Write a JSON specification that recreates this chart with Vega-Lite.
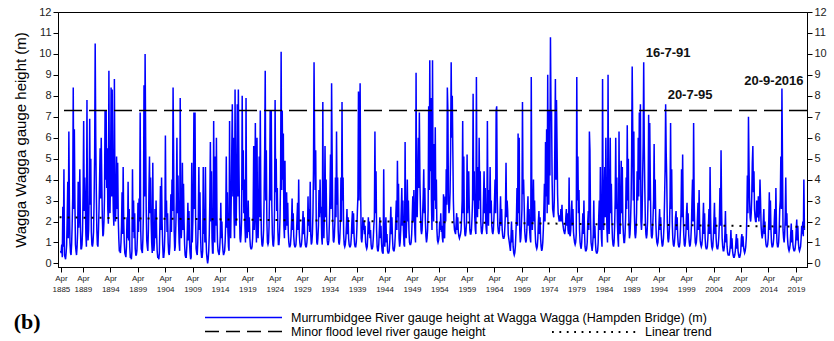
{
  "$schema": "https://vega.github.io/schema/vega-lite/v6.json",
  "width": 749,
  "height": 255,
  "autosize": {"type": "none"},
  "padding": {"left": 58, "top": 12, "right": 27, "bottom": 74},
  "background": "white",
  "config": {
    "font": "Liberation Sans",
    "view": {"stroke": "#000", "strokeWidth": 1},
    "axis": {"domainColor": "#000", "tickColor": "#000", "grid": false, "labelColor": "#222", "tickSize": 5, "labelFont": "Liberation Sans"},
    "axisX": {"labelOverlap": false, "labelFlush": false},
    "legend": {"padding": 0, "labelFont": "Liberation Sans", "labelColor": "#000", "labelFontSize": 12.5, "labelLimit": 600}
  },
  "title": {"text": "(b)", "orient": "bottom", "anchor": "start", "frame": "bounds", "font": "Liberation Serif", "fontSize": 22, "fontWeight": "bold", "color": "#000", "offset": -27},
  "datasets": {
    "gauge": [
{"t":1885.2,"h":0.6},{"t":1885.3,"h":0.5},{"t":1885.4,"h":0.9},{"t":1885.5,"h":0.3},{"t":1885.6,"h":2.7},{"t":1885.7,"h":0.8},{"t":1885.8,"h":4.5},{"t":1885.9,"h":0.4},
{"t":1886,"h":0.3},{"t":1886.1,"h":0.2},{"t":1886.2,"h":0.5},{"t":1886.3,"h":0.9},{"t":1886.4,"h":2.2},{"t":1886.5,"h":3.9},{"t":1886.6,"h":1.2},{"t":1886.7,"h":6.3},{"t":1886.8,"h":2.9},{"t":1886.9,"h":1},
{"t":1887,"h":0.5},{"t":1887.1,"h":0.4},{"t":1887.2,"h":0.9},{"t":1887.3,"h":1.8},{"t":1887.4,"h":3.1},{"t":1887.5,"h":8.4},{"t":1887.6,"h":2.6},{"t":1887.7,"h":6.4},{"t":1887.8,"h":3},{"t":1887.9,"h":0.9},
{"t":1888,"h":0.6},{"t":1888.1,"h":0.4},{"t":1888.2,"h":0.8},{"t":1888.3,"h":1.5},{"t":1888.4,"h":3.9},{"t":1888.5,"h":1.7},{"t":1888.6,"h":2.8},{"t":1888.7,"h":4.5},{"t":1888.8,"h":1.9},{"t":1888.9,"h":0.7},
{"t":1889,"h":0.7},{"t":1889.1,"h":0.9},{"t":1889.2,"h":1.6},{"t":1889.3,"h":3.4},{"t":1889.4,"h":6.8},{"t":1889.5,"h":2.5},{"t":1889.6,"h":4.1},{"t":1889.7,"h":3},{"t":1889.8,"h":1.4},{"t":1889.9,"h":0.8},
{"t":1890,"h":7.8},{"t":1890.1,"h":2},{"t":1890.2,"h":1.1},{"t":1890.3,"h":1.6},{"t":1890.4,"h":3.3},{"t":1890.5,"h":6.9},{"t":1890.6,"h":2.8},{"t":1890.7,"h":5},{"t":1890.8,"h":1.5},{"t":1890.9,"h":0.9},
{"t":1891,"h":0.8},{"t":1891.1,"h":1},{"t":1891.2,"h":1.5},{"t":1891.3,"h":3},{"t":1891.4,"h":5.2},{"t":1891.5,"h":10.5},{"t":1891.6,"h":6.1},{"t":1891.7,"h":3.5},{"t":1891.8,"h":1.6},{"t":1891.9,"h":0.9},
{"t":1892,"h":0.8},{"t":1892.1,"h":1.6},{"t":1892.2,"h":2.6},{"t":1892.3,"h":4},{"t":1892.4,"h":5.5},{"t":1892.5,"h":3.1},{"t":1892.6,"h":6},{"t":1892.7,"h":4},{"t":1892.8,"h":2.2},{"t":1892.9,"h":1.3},
{"t":1893,"h":1.4},{"t":1893.1,"h":2},{"t":1893.2,"h":3.2},{"t":1893.3,"h":7.3},{"t":1893.4,"h":4},{"t":1893.5,"h":7.3},{"t":1893.6,"h":3.6},{"t":1893.7,"h":5.5},{"t":1893.8,"h":2.6},{"t":1893.9,"h":1.9},
{"t":1894,"h":9.2},{"t":1894.1,"h":3},{"t":1894.2,"h":2.4},{"t":1894.3,"h":4.1},{"t":1894.4,"h":8.4},{"t":1894.5,"h":3.2},{"t":1894.6,"h":8.3},{"t":1894.7,"h":4.5},{"t":1894.8,"h":2.5},{"t":1894.9,"h":1.8},
{"t":1895,"h":8.8},{"t":1895.1,"h":3.4},{"t":1895.2,"h":2},{"t":1895.3,"h":3},{"t":1895.4,"h":5.1},{"t":1895.5,"h":2.6},{"t":1895.6,"h":4.8},{"t":1895.7,"h":2.2},{"t":1895.8,"h":1.2},{"t":1895.9,"h":0.6},
{"t":1896,"h":0.6},{"t":1896.1,"h":0.5},{"t":1896.2,"h":1},{"t":1896.3,"h":1.8},{"t":1896.4,"h":3.4},{"t":1896.5,"h":1.4},{"t":1896.6,"h":4.6},{"t":1896.7,"h":2},{"t":1896.8,"h":1},{"t":1896.9,"h":0.5},
{"t":1897,"h":0.4},{"t":1897.1,"h":0.3},{"t":1897.2,"h":0.8},{"t":1897.3,"h":2.2},{"t":1897.4,"h":1.2},{"t":1897.5,"h":3.9},{"t":1897.6,"h":1.1},{"t":1897.7,"h":2.6},{"t":1897.8,"h":0.8},{"t":1897.9,"h":0.3},
{"t":1898,"h":0.3},{"t":1898.1,"h":0.2},{"t":1898.2,"h":0.6},{"t":1898.3,"h":4.5},{"t":1898.4,"h":1.5},{"t":1898.5,"h":3},{"t":1898.6,"h":1.2},{"t":1898.7,"h":2.4},{"t":1898.8,"h":0.7},{"t":1898.9,"h":0.4},
{"t":1899,"h":0.4},{"t":1899.1,"h":0.6},{"t":1899.2,"h":1.3},{"t":1899.3,"h":2.9},{"t":1899.4,"h":1.5},{"t":1899.5,"h":3.1},{"t":1899.6,"h":2},{"t":1899.7,"h":7.2},{"t":1899.8,"h":1.6},{"t":1899.9,"h":0.7},
{"t":1900,"h":0.6},{"t":1900.1,"h":0.5},{"t":1900.2,"h":1.2},{"t":1900.3,"h":2.5},{"t":1900.4,"h":8.5},{"t":1900.5,"h":3.2},{"t":1900.6,"h":10},{"t":1900.7,"h":6},{"t":1900.8,"h":2.6},{"t":1900.9,"h":1.1},
{"t":1901,"h":0.8},{"t":1901.1,"h":0.6},{"t":1901.2,"h":1.6},{"t":1901.3,"h":3.5},{"t":1901.4,"h":5.1},{"t":1901.5,"h":2.4},{"t":1901.6,"h":4.1},{"t":1901.7,"h":2},{"t":1901.8,"h":1},{"t":1901.9,"h":0.5},
{"t":1902,"h":4.8},{"t":1902.1,"h":1.3},{"t":1902.2,"h":0.6},{"t":1902.3,"h":1},{"t":1902.4,"h":2.6},{"t":1902.5,"h":1.2},{"t":1902.6,"h":3},{"t":1902.7,"h":1.4},{"t":1902.8,"h":0.6},{"t":1902.9,"h":0.3},
{"t":1903,"h":0.3},{"t":1903.1,"h":0.2},{"t":1903.2,"h":0.5},{"t":1903.3,"h":1.9},{"t":1903.4,"h":3.7},{"t":1903.5,"h":1.6},{"t":1903.6,"h":4.1},{"t":1903.7,"h":2},{"t":1903.8,"h":0.9},{"t":1903.9,"h":0.3},
{"t":1904,"h":0.3},{"t":1904.1,"h":0.6},{"t":1904.2,"h":1.4},{"t":1904.3,"h":6.1},{"t":1904.4,"h":2.2},{"t":1904.5,"h":3},{"t":1904.6,"h":1.5},{"t":1904.7,"h":2.4},{"t":1904.8,"h":1},{"t":1904.9,"h":0.5},
{"t":1905,"h":0.4},{"t":1905.1,"h":0.8},{"t":1905.2,"h":2},{"t":1905.3,"h":3.3},{"t":1905.4,"h":1.5},{"t":1905.5,"h":4},{"t":1905.6,"h":2.5},{"t":1905.7,"h":8.4},{"t":1905.8,"h":5.1},{"t":1905.9,"h":1.5},
{"t":1906,"h":0.6},{"t":1906.1,"h":0.8},{"t":1906.2,"h":1.8},{"t":1906.3,"h":3},{"t":1906.4,"h":6},{"t":1906.5,"h":2.4},{"t":1906.6,"h":4.2},{"t":1906.7,"h":2},{"t":1906.8,"h":1},{"t":1906.9,"h":0.6},
{"t":1907,"h":7.9},{"t":1907.1,"h":2.5},{"t":1907.2,"h":1.2},{"t":1907.3,"h":2},{"t":1907.4,"h":4.8},{"t":1907.5,"h":1.6},{"t":1907.6,"h":3.8},{"t":1907.7,"h":2},{"t":1907.8,"h":0.9},{"t":1907.9,"h":0.4},
{"t":1908,"h":0.3},{"t":1908.1,"h":0.3},{"t":1908.2,"h":0.8},{"t":1908.3,"h":1.6},{"t":1908.4,"h":2.9},{"t":1908.5,"h":1.1},{"t":1908.6,"h":2.5},{"t":1908.7,"h":1},{"t":1908.8,"h":0.5},{"t":1908.9,"h":0.2},
{"t":1909,"h":0.3},{"t":1909.1,"h":4.8},{"t":1909.2,"h":1},{"t":1909.3,"h":2},{"t":1909.4,"h":3.6},{"t":1909.5,"h":7.2},{"t":1909.6,"h":2.6},{"t":1909.7,"h":7.2},{"t":1909.8,"h":2.2},{"t":1909.9,"h":0.7},
{"t":1910,"h":0.5},{"t":1910.1,"h":0.4},{"t":1910.2,"h":1},{"t":1910.3,"h":2.2},{"t":1910.4,"h":4.6},{"t":1910.5,"h":1.6},{"t":1910.6,"h":3.4},{"t":1910.7,"h":1.4},{"t":1910.8,"h":0.6},{"t":1910.9,"h":0.3},
{"t":1911,"h":0.3},{"t":1911.1,"h":0.6},{"t":1911.2,"h":4.6},{"t":1911.3,"h":1.4},{"t":1911.4,"h":2.6},{"t":1911.5,"h":1},{"t":1911.6,"h":4.6},{"t":1911.7,"h":1.3},{"t":1911.8,"h":0.5},{"t":1911.9,"h":0.2},
{"t":1912,"h":0},{"t":1912.1,"h":0.2},{"t":1912.2,"h":0.6},{"t":1912.3,"h":1.4},{"t":1912.4,"h":3},{"t":1912.5,"h":5.8},{"t":1912.6,"h":2},{"t":1912.7,"h":4.4},{"t":1912.8,"h":1.2},{"t":1912.9,"h":0.5},
{"t":1913,"h":0.5},{"t":1913.1,"h":6.8},{"t":1913.2,"h":2},{"t":1913.3,"h":1},{"t":1913.4,"h":5.1},{"t":1913.5,"h":1.8},{"t":1913.6,"h":6},{"t":1913.7,"h":2.2},{"t":1913.8,"h":1},{"t":1913.9,"h":0.6},
{"t":1914,"h":0.5},{"t":1914.1,"h":0.4},{"t":1914.2,"h":0.7},{"t":1914.3,"h":1.3},{"t":1914.4,"h":2.9},{"t":1914.5,"h":1.2},{"t":1914.6,"h":2},{"t":1914.7,"h":1},{"t":1914.8,"h":0.6},{"t":1914.9,"h":0.4},
{"t":1915,"h":0.5},{"t":1915.1,"h":0.6},{"t":1915.2,"h":1.1},{"t":1915.3,"h":2},{"t":1915.4,"h":5.1},{"t":1915.5,"h":1.7},{"t":1915.6,"h":3.4},{"t":1915.7,"h":1.5},{"t":1915.8,"h":0.8},{"t":1915.9,"h":0.6},
{"t":1916,"h":6.8},{"t":1916.1,"h":2},{"t":1916.2,"h":1.2},{"t":1916.3,"h":3},{"t":1916.4,"h":5.4},{"t":1916.5,"h":7.6},{"t":1916.6,"h":3.2},{"t":1916.7,"h":6},{"t":1916.8,"h":2.4},{"t":1916.9,"h":1.2},
{"t":1917,"h":8.3},{"t":1917.1,"h":3},{"t":1917.2,"h":1.8},{"t":1917.3,"h":4},{"t":1917.4,"h":7.6},{"t":1917.5,"h":3.2},{"t":1917.6,"h":8.3},{"t":1917.7,"h":4.8},{"t":1917.8,"h":2.6},{"t":1917.9,"h":1.2},
{"t":1918,"h":1},{"t":1918.1,"h":1.4},{"t":1918.2,"h":2.2},{"t":1918.3,"h":8},{"t":1918.4,"h":3.5},{"t":1918.5,"h":5.4},{"t":1918.6,"h":2.4},{"t":1918.7,"h":4},{"t":1918.8,"h":1.8},{"t":1918.9,"h":1},
{"t":1919,"h":7.9},{"t":1919.1,"h":2.6},{"t":1919.2,"h":1.2},{"t":1919.3,"h":1.6},{"t":1919.4,"h":3},{"t":1919.5,"h":1.5},{"t":1919.6,"h":2.2},{"t":1919.7,"h":1.2},{"t":1919.8,"h":0.8},{"t":1919.9,"h":0.7},
{"t":1920,"h":0.7},{"t":1920.1,"h":0.8},{"t":1920.2,"h":1.2},{"t":1920.3,"h":2.4},{"t":1920.4,"h":5.6},{"t":1920.5,"h":1.6},{"t":1920.6,"h":3.2},{"t":1920.7,"h":6.7},{"t":1920.8,"h":2},{"t":1920.9,"h":1},
{"t":1921,"h":6},{"t":1921.1,"h":2},{"t":1921.2,"h":1.2},{"t":1921.3,"h":2.5},{"t":1921.4,"h":5.1},{"t":1921.5,"h":2.2},{"t":1921.6,"h":7.3},{"t":1921.7,"h":3},{"t":1921.8,"h":1.4},{"t":1921.9,"h":0.9},
{"t":1922,"h":0.8},{"t":1922.1,"h":1},{"t":1922.2,"h":1.6},{"t":1922.3,"h":3.2},{"t":1922.4,"h":5.4},{"t":1922.5,"h":9.2},{"t":1922.6,"h":3},{"t":1922.7,"h":5.4},{"t":1922.8,"h":2},{"t":1922.9,"h":1},
{"t":1923,"h":0.9},{"t":1923.1,"h":1},{"t":1923.2,"h":1.8},{"t":1923.3,"h":3.6},{"t":1923.4,"h":7.3},{"t":1923.5,"h":3},{"t":1923.6,"h":7.3},{"t":1923.7,"h":2.8},{"t":1923.8,"h":1.4},{"t":1923.9,"h":0.9},
{"t":1924,"h":0.8},{"t":1924.1,"h":1.2},{"t":1924.2,"h":2.6},{"t":1924.3,"h":7.8},{"t":1924.4,"h":3.4},{"t":1924.5,"h":5},{"t":1924.6,"h":2.5},{"t":1924.7,"h":3.6},{"t":1924.8,"h":1.6},{"t":1924.9,"h":0.9},
{"t":1925,"h":0.9},{"t":1925.1,"h":1.3},{"t":1925.2,"h":2.2},{"t":1925.3,"h":4},{"t":1925.4,"h":10.1},{"t":1925.5,"h":3.5},{"t":1925.6,"h":7.3},{"t":1925.7,"h":4},{"t":1925.8,"h":6.2},{"t":1925.9,"h":1.8},
{"t":1926,"h":1.2},{"t":1926.1,"h":4.9},{"t":1926.2,"h":1.6},{"t":1926.3,"h":2.2},{"t":1926.4,"h":3.4},{"t":1926.5,"h":1.8},{"t":1926.6,"h":2.9},{"t":1926.7,"h":1.5},{"t":1926.8,"h":1},{"t":1926.9,"h":0.8},
{"t":1927,"h":0.8},{"t":1927.1,"h":0.9},{"t":1927.2,"h":1.3},{"t":1927.3,"h":2},{"t":1927.4,"h":3.1},{"t":1927.5,"h":1.6},{"t":1927.6,"h":2.4},{"t":1927.7,"h":1.3},{"t":1927.8,"h":0.9},{"t":1927.9,"h":0.8},
{"t":1928,"h":0.8},{"t":1928.1,"h":0.9},{"t":1928.2,"h":1.4},{"t":1928.3,"h":2.2},{"t":1928.4,"h":2.9},{"t":1928.5,"h":1.6},{"t":1928.6,"h":4},{"t":1928.7,"h":1.5},{"t":1928.8,"h":1},{"t":1928.9,"h":0.8},
{"t":1929,"h":0.8},{"t":1929.1,"h":0.9},{"t":1929.2,"h":1.2},{"t":1929.3,"h":1.9},{"t":1929.4,"h":2.5},{"t":1929.5,"h":1.4},{"t":1929.6,"h":2.2},{"t":1929.7,"h":1.3},{"t":1929.8,"h":0.9},{"t":1929.9,"h":0.8},
{"t":1930,"h":0.8},{"t":1930.1,"h":1},{"t":1930.2,"h":1.4},{"t":1930.3,"h":3.2},{"t":1930.4,"h":1.8},{"t":1930.5,"h":2.6},{"t":1930.6,"h":1.5},{"t":1930.7,"h":3.9},{"t":1930.8,"h":1.4},{"t":1930.9,"h":0.9},
{"t":1931,"h":1},{"t":1931.1,"h":1.4},{"t":1931.2,"h":2.4},{"t":1931.3,"h":4.5},{"t":1931.4,"h":9.6},{"t":1931.5,"h":5.7},{"t":1931.6,"h":3.5},{"t":1931.7,"h":5.4},{"t":1931.8,"h":2},{"t":1931.9,"h":1},
{"t":1932,"h":0.9},{"t":1932.1,"h":1.2},{"t":1932.2,"h":1.8},{"t":1932.3,"h":3.5},{"t":1932.4,"h":2.2},{"t":1932.5,"h":4},{"t":1932.6,"h":2.4},{"t":1932.7,"h":2.7},{"t":1932.8,"h":1.2},{"t":1932.9,"h":0.9},
{"t":1933,"h":7.7},{"t":1933.1,"h":2},{"t":1933.2,"h":1.2},{"t":1933.3,"h":2.7},{"t":1933.4,"h":5.6},{"t":1933.5,"h":2.2},{"t":1933.6,"h":4},{"t":1933.7,"h":2},{"t":1933.8,"h":1.1},{"t":1933.9,"h":0.9},
{"t":1934,"h":0.9},{"t":1934.1,"h":1.1},{"t":1934.2,"h":2},{"t":1934.3,"h":3.3},{"t":1934.4,"h":5.2},{"t":1934.5,"h":2.6},{"t":1934.6,"h":8.6},{"t":1934.7,"h":5.2},{"t":1934.8,"h":2.2},{"t":1934.9,"h":1.1},
{"t":1935,"h":1},{"t":1935.1,"h":1.3},{"t":1935.2,"h":2},{"t":1935.3,"h":4.1},{"t":1935.4,"h":2.2},{"t":1935.5,"h":6.3},{"t":1935.6,"h":2.8},{"t":1935.7,"h":4.1},{"t":1935.8,"h":1.6},{"t":1935.9,"h":1},
{"t":1936,"h":0.9},{"t":1936.1,"h":1.2},{"t":1936.2,"h":2},{"t":1936.3,"h":4.1},{"t":1936.4,"h":2},{"t":1936.5,"h":7.7},{"t":1936.6,"h":3},{"t":1936.7,"h":4.1},{"t":1936.8,"h":1.4},{"t":1936.9,"h":0.9},
{"t":1937,"h":0.8},{"t":1937.1,"h":0.9},{"t":1937.2,"h":1.2},{"t":1937.3,"h":1.8},{"t":1937.4,"h":2.6},{"t":1937.5,"h":1.4},{"t":1937.6,"h":2.2},{"t":1937.7,"h":1.2},{"t":1937.8,"h":0.9},{"t":1937.9,"h":0.8},
{"t":1938,"h":0.8},{"t":1938.1,"h":0.9},{"t":1938.2,"h":1.3},{"t":1938.3,"h":2},{"t":1938.4,"h":2.5},{"t":1938.5,"h":1.4},{"t":1938.6,"h":2.4},{"t":1938.7,"h":1.3},{"t":1938.8,"h":0.9},{"t":1938.9,"h":0.8},
{"t":1939,"h":0.8},{"t":1939.1,"h":1},{"t":1939.2,"h":1.6},{"t":1939.3,"h":2.5},{"t":1939.4,"h":3.2},{"t":1939.5,"h":8.2},{"t":1939.6,"h":3},{"t":1939.7,"h":6},{"t":1939.8,"h":8.6},{"t":1939.9,"h":3.2},
{"t":1940,"h":1.2},{"t":1940.1,"h":1},{"t":1940.2,"h":1.3},{"t":1940.3,"h":2.2},{"t":1940.4,"h":1.6},{"t":1940.5,"h":2},{"t":1940.6,"h":1.4},{"t":1940.7,"h":1.8},{"t":1940.8,"h":1},{"t":1940.9,"h":0.8},
{"t":1941,"h":0.7},{"t":1941.1,"h":0.8},{"t":1941.2,"h":1.4},{"t":1941.3,"h":2.2},{"t":1941.4,"h":1.4},{"t":1941.5,"h":2},{"t":1941.6,"h":1.2},{"t":1941.7,"h":1.6},{"t":1941.8,"h":0.9},{"t":1941.9,"h":0.7},
{"t":1942,"h":0.7},{"t":1942.1,"h":0.8},{"t":1942.2,"h":1.2},{"t":1942.3,"h":1.8},{"t":1942.4,"h":2.2},{"t":1942.5,"h":6.3},{"t":1942.6,"h":2.4},{"t":1942.7,"h":4.4},{"t":1942.8,"h":1.6},{"t":1942.9,"h":0.8},
{"t":1943,"h":0.6},{"t":1943.1,"h":0.6},{"t":1943.2,"h":0.9},{"t":1943.3,"h":1.6},{"t":1943.4,"h":2.2},{"t":1943.5,"h":1.2},{"t":1943.6,"h":1.8},{"t":1943.7,"h":1},{"t":1943.8,"h":0.6},{"t":1943.9,"h":0.5},
{"t":1944,"h":0.5},{"t":1944.1,"h":4.5},{"t":1944.2,"h":1.2},{"t":1944.3,"h":0.8},{"t":1944.4,"h":1.6},{"t":1944.5,"h":2.2},{"t":1944.6,"h":1},{"t":1944.7,"h":1.4},{"t":1944.8,"h":0.6},{"t":1944.9,"h":0.5},
{"t":1945,"h":0.5},{"t":1945.1,"h":0.6},{"t":1945.2,"h":1},{"t":1945.3,"h":1.8},{"t":1945.4,"h":2.7},{"t":1945.5,"h":1.4},{"t":1945.6,"h":2.2},{"t":1945.7,"h":1.2},{"t":1945.8,"h":0.7},{"t":1945.9,"h":0.6},
{"t":1946,"h":0.6},{"t":1946.1,"h":0.8},{"t":1946.2,"h":1.3},{"t":1946.3,"h":2.2},{"t":1946.4,"h":3},{"t":1946.5,"h":1.6},{"t":1946.6,"h":4.9},{"t":1946.7,"h":2.2},{"t":1946.8,"h":3.8},{"t":1946.9,"h":1.2},
{"t":1947,"h":0.8},{"t":1947.1,"h":1},{"t":1947.2,"h":1.6},{"t":1947.3,"h":2.6},{"t":1947.4,"h":3.6},{"t":1947.5,"h":1.8},{"t":1947.6,"h":3},{"t":1947.7,"h":1.6},{"t":1947.8,"h":0.9},{"t":1947.9,"h":0.8},
{"t":1948,"h":5.8},{"t":1948.1,"h":1.8},{"t":1948.2,"h":1.2},{"t":1948.3,"h":2.2},{"t":1948.4,"h":4},{"t":1948.5,"h":2},{"t":1948.6,"h":3},{"t":1948.7,"h":1.6},{"t":1948.8,"h":1},{"t":1948.9,"h":0.9},
{"t":1949,"h":0.9},{"t":1949.1,"h":1},{"t":1949.2,"h":1.4},{"t":1949.3,"h":2.2},{"t":1949.4,"h":3.2},{"t":1949.5,"h":2},{"t":1949.6,"h":3.5},{"t":1949.7,"h":2.2},{"t":1949.8,"h":1.4},{"t":1949.9,"h":1},
{"t":1950,"h":9.1},{"t":1950.1,"h":3},{"t":1950.2,"h":2.2},{"t":1950.3,"h":4},{"t":1950.4,"h":6},{"t":1950.5,"h":3.6},{"t":1950.6,"h":7.2},{"t":1950.7,"h":4},{"t":1950.8,"h":2.6},{"t":1950.9,"h":1.6},
{"t":1951,"h":1.4},{"t":1951.1,"h":1.6},{"t":1951.2,"h":2.4},{"t":1951.3,"h":3.2},{"t":1951.4,"h":4.5},{"t":1951.5,"h":2.4},{"t":1951.6,"h":3.6},{"t":1951.7,"h":2},{"t":1951.8,"h":1.3},{"t":1951.9,"h":1},
{"t":1952,"h":1.2},{"t":1952.1,"h":1.6},{"t":1952.2,"h":2.6},{"t":1952.3,"h":7.5},{"t":1952.4,"h":3.5},{"t":1952.5,"h":9.7},{"t":1952.6,"h":4.4},{"t":1952.7,"h":7.9},{"t":1952.8,"h":3},{"t":1952.9,"h":1.6},
{"t":1953,"h":9.7},{"t":1953.1,"h":3.5},{"t":1953.2,"h":2},{"t":1953.3,"h":5.7},{"t":1953.4,"h":3},{"t":1953.5,"h":6.5},{"t":1953.6,"h":2.6},{"t":1953.7,"h":4},{"t":1953.8,"h":1.6},{"t":1953.9,"h":1.1},
{"t":1954,"h":1},{"t":1954.1,"h":1.1},{"t":1954.2,"h":1.3},{"t":1954.3,"h":2},{"t":1954.4,"h":1.6},{"t":1954.5,"h":2.4},{"t":1954.6,"h":1.5},{"t":1954.7,"h":1.8},{"t":1954.8,"h":1.2},{"t":1954.9,"h":1},
{"t":1955,"h":3.3},{"t":1955.1,"h":1.4},{"t":1955.2,"h":1.2},{"t":1955.3,"h":3.2},{"t":1955.4,"h":2},{"t":1955.5,"h":4.5},{"t":1955.6,"h":2.8},{"t":1955.7,"h":8.4},{"t":1955.8,"h":7.3},{"t":1955.9,"h":3},
{"t":1956,"h":2.4},{"t":1956.1,"h":2.6},{"t":1956.2,"h":3.4},{"t":1956.3,"h":5.4},{"t":1956.4,"h":9.6},{"t":1956.5,"h":6},{"t":1956.6,"h":8},{"t":1956.7,"h":5.4},{"t":1956.8,"h":3},{"t":1956.9,"h":2},
{"t":1957,"h":1.6},{"t":1957.1,"h":1.5},{"t":1957.2,"h":1.4},{"t":1957.3,"h":1.9},{"t":1957.4,"h":2.4},{"t":1957.5,"h":1.6},{"t":1957.6,"h":2.2},{"t":1957.7,"h":1.5},{"t":1957.8,"h":1.3},{"t":1957.9,"h":1.2},
{"t":1958,"h":1.3},{"t":1958.1,"h":1.4},{"t":1958.2,"h":1.6},{"t":1958.3,"h":2.2},{"t":1958.4,"h":3},{"t":1958.5,"h":6.8},{"t":1958.6,"h":2.4},{"t":1958.7,"h":5.1},{"t":1958.8,"h":2},{"t":1958.9,"h":1.4},
{"t":1959,"h":1.3},{"t":1959.1,"h":1.5},{"t":1959.2,"h":2},{"t":1959.3,"h":5.2},{"t":1959.4,"h":2.4},{"t":1959.5,"h":3.5},{"t":1959.6,"h":4.4},{"t":1959.7,"h":2.6},{"t":1959.8,"h":1.6},{"t":1959.9,"h":1.4},
{"t":1960,"h":1.4},{"t":1960.1,"h":1.6},{"t":1960.2,"h":2.2},{"t":1960.3,"h":3},{"t":1960.4,"h":8.1},{"t":1960.5,"h":3},{"t":1960.6,"h":4.4},{"t":1960.7,"h":2.2},{"t":1960.8,"h":1.6},{"t":1960.9,"h":1.4},
{"t":1961,"h":8.9},{"t":1961.1,"h":3.4},{"t":1961.2,"h":2.2},{"t":1961.3,"h":4.6},{"t":1961.4,"h":2.6},{"t":1961.5,"h":6},{"t":1961.6,"h":3},{"t":1961.7,"h":4.4},{"t":1961.8,"h":2},{"t":1961.9,"h":1.5},
{"t":1962,"h":1.4},{"t":1962.1,"h":1.6},{"t":1962.2,"h":2},{"t":1962.3,"h":3.2},{"t":1962.4,"h":4.4},{"t":1962.5,"h":2.4},{"t":1962.6,"h":3.6},{"t":1962.7,"h":2},{"t":1962.8,"h":1.6},{"t":1962.9,"h":1.4},
{"t":1963,"h":6.8},{"t":1963.1,"h":2.6},{"t":1963.2,"h":1.8},{"t":1963.3,"h":3.5},{"t":1963.4,"h":2.4},{"t":1963.5,"h":4.6},{"t":1963.6,"h":2.4},{"t":1963.7,"h":3},{"t":1963.8,"h":1.8},{"t":1963.9,"h":1.5},
{"t":1964,"h":1.4},{"t":1964.1,"h":1.6},{"t":1964.2,"h":2.2},{"t":1964.3,"h":3},{"t":1964.4,"h":4},{"t":1964.5,"h":2.4},{"t":1964.6,"h":7.3},{"t":1964.7,"h":7.5},{"t":1964.8,"h":3.2},{"t":1964.9,"h":1.8},
{"t":1965,"h":1.5},{"t":1965.1,"h":1.4},{"t":1965.2,"h":1.6},{"t":1965.3,"h":2.2},{"t":1965.4,"h":3.2},{"t":1965.5,"h":1.8},{"t":1965.6,"h":2.6},{"t":1965.7,"h":1.6},{"t":1965.8,"h":1.3},{"t":1965.9,"h":1.2},
{"t":1966,"h":1.2},{"t":1966.1,"h":1.3},{"t":1966.2,"h":1.8},{"t":1966.3,"h":2.6},{"t":1966.4,"h":4.8},{"t":1966.5,"h":2.2},{"t":1966.6,"h":3},{"t":1966.7,"h":2.5},{"t":1966.8,"h":1.4},{"t":1966.9,"h":1.2},
{"t":1967,"h":1},{"t":1967.1,"h":0.8},{"t":1967.2,"h":0.6},{"t":1967.3,"h":1.2},{"t":1967.4,"h":2},{"t":1967.5,"h":1},{"t":1967.6,"h":1.6},{"t":1967.7,"h":0.8},{"t":1967.8,"h":0.5},{"t":1967.9,"h":0.4},
{"t":1968,"h":0.5},{"t":1968.1,"h":0.8},{"t":1968.2,"h":1.4},{"t":1968.3,"h":2.2},{"t":1968.4,"h":3.6},{"t":1968.5,"h":1.8},{"t":1968.6,"h":6.2},{"t":1968.7,"h":2.4},{"t":1968.8,"h":6},{"t":1968.9,"h":1.6},
{"t":1969,"h":1},{"t":1969.1,"h":1.2},{"t":1969.2,"h":1.8},{"t":1969.3,"h":2.6},{"t":1969.4,"h":7.7},{"t":1969.5,"h":3.3},{"t":1969.6,"h":4},{"t":1969.7,"h":2.9},{"t":1969.8,"h":1.6},{"t":1969.9,"h":1.2},
{"t":1970,"h":1},{"t":1970.1,"h":1.1},{"t":1970.2,"h":1.6},{"t":1970.3,"h":2.5},{"t":1970.4,"h":3.2},{"t":1970.5,"h":1.8},{"t":1970.6,"h":2.6},{"t":1970.7,"h":1.6},{"t":1970.8,"h":1.2},{"t":1970.9,"h":1},
{"t":1971,"h":8.9},{"t":1971.1,"h":3.2},{"t":1971.2,"h":1.6},{"t":1971.3,"h":2.5},{"t":1971.4,"h":4},{"t":1971.5,"h":2},{"t":1971.6,"h":3},{"t":1971.7,"h":1.6},{"t":1971.8,"h":1},{"t":1971.9,"h":0.8},
{"t":1972,"h":0.7},{"t":1972.1,"h":0.8},{"t":1972.2,"h":1.2},{"t":1972.3,"h":2},{"t":1972.4,"h":2.5},{"t":1972.5,"h":1.4},{"t":1972.6,"h":2.2},{"t":1972.7,"h":1.2},{"t":1972.8,"h":0.8},{"t":1972.9,"h":0.6},
{"t":1973,"h":0.7},{"t":1973.1,"h":1},{"t":1973.2,"h":1.6},{"t":1973.3,"h":2.6},{"t":1973.4,"h":3.8},{"t":1973.5,"h":2},{"t":1973.6,"h":5.8},{"t":1973.7,"h":3.2},{"t":1973.8,"h":6.4},{"t":1973.9,"h":2.4},
{"t":1974,"h":9},{"t":1974.1,"h":3.2},{"t":1974.2,"h":2.8},{"t":1974.3,"h":7.3},{"t":1974.4,"h":4.2},{"t":1974.5,"h":10.8},{"t":1974.6,"h":7.2},{"t":1974.7,"h":7.3},{"t":1974.8,"h":4},{"t":1974.9,"h":2.6},
{"t":1975,"h":2.4},{"t":1975.1,"h":2.2},{"t":1975.2,"h":3},{"t":1975.3,"h":5.7},{"t":1975.4,"h":8.8},{"t":1975.5,"h":4},{"t":1975.6,"h":7.8},{"t":1975.7,"h":5.7},{"t":1975.8,"h":3.3},{"t":1975.9,"h":2.4},
{"t":1976,"h":2.2},{"t":1976.1,"h":2},{"t":1976.2,"h":2.3},{"t":1976.3,"h":2},{"t":1976.4,"h":2.6},{"t":1976.5,"h":2},{"t":1976.6,"h":2.8},{"t":1976.7,"h":2},{"t":1976.8,"h":1.8},{"t":1976.9,"h":1.6},
{"t":1977,"h":1.5},{"t":1977.1,"h":1.4},{"t":1977.2,"h":1.6},{"t":1977.3,"h":2.2},{"t":1977.4,"h":2.6},{"t":1977.5,"h":1.8},{"t":1977.6,"h":2.4},{"t":1977.7,"h":1.6},{"t":1977.8,"h":1.4},{"t":1977.9,"h":4.1},
{"t":1978,"h":1.4},{"t":1978.1,"h":1.3},{"t":1978.2,"h":1.6},{"t":1978.3,"h":2.5},{"t":1978.4,"h":3},{"t":1978.5,"h":1.8},{"t":1978.6,"h":2.6},{"t":1978.7,"h":1.5},{"t":1978.8,"h":1.2},{"t":1978.9,"h":1},
{"t":1979,"h":0.9},{"t":1979.1,"h":1},{"t":1979.2,"h":1.4},{"t":1979.3,"h":8.9},{"t":1979.4,"h":3},{"t":1979.5,"h":5.1},{"t":1979.6,"h":2.4},{"t":1979.7,"h":3.5},{"t":1979.8,"h":1.6},{"t":1979.9,"h":1},
{"t":1980,"h":0.8},{"t":1980.1,"h":0.7},{"t":1980.2,"h":1},{"t":1980.3,"h":1.6},{"t":1980.4,"h":2.4},{"t":1980.5,"h":1.4},{"t":1980.6,"h":3},{"t":1980.7,"h":1.6},{"t":1980.8,"h":0.8},{"t":1980.9,"h":0.6},
{"t":1981,"h":0.6},{"t":1981.1,"h":0.7},{"t":1981.2,"h":1},{"t":1981.3,"h":2},{"t":1981.4,"h":2.5},{"t":1981.5,"h":1.6},{"t":1981.6,"h":6.3},{"t":1981.7,"h":5.4},{"t":1981.8,"h":2.2},{"t":1981.9,"h":1},
{"t":1982,"h":0.8},{"t":1982.1,"h":0.6},{"t":1982.2,"h":0.9},{"t":1982.3,"h":1.4},{"t":1982.4,"h":3},{"t":1982.5,"h":1.2},{"t":1982.6,"h":1.8},{"t":1982.7,"h":1},{"t":1982.8,"h":0.6},{"t":1982.9,"h":0.5},
{"t":1983,"h":0.5},{"t":1983.1,"h":0.6},{"t":1983.2,"h":1},{"t":1983.3,"h":2.2},{"t":1983.4,"h":3},{"t":1983.5,"h":1.6},{"t":1983.6,"h":4.6},{"t":1983.7,"h":2.2},{"t":1983.8,"h":1.2},{"t":1983.9,"h":0.8},
{"t":1984,"h":8.8},{"t":1984.1,"h":2.6},{"t":1984.2,"h":1.6},{"t":1984.3,"h":3.2},{"t":1984.4,"h":4.6},{"t":1984.5,"h":2.2},{"t":1984.6,"h":6},{"t":1984.7,"h":3},{"t":1984.8,"h":1.6},{"t":1984.9,"h":1},
{"t":1985,"h":9},{"t":1985.1,"h":3},{"t":1985.2,"h":1.4},{"t":1985.3,"h":2.8},{"t":1985.4,"h":6},{"t":1985.5,"h":2.4},{"t":1985.6,"h":3.8},{"t":1985.7,"h":2},{"t":1985.8,"h":1.2},{"t":1985.9,"h":0.9},
{"t":1986,"h":0.8},{"t":1986.1,"h":1},{"t":1986.2,"h":1.8},{"t":1986.3,"h":3},{"t":1986.4,"h":6},{"t":1986.5,"h":2.6},{"t":1986.6,"h":4.1},{"t":1986.7,"h":2},{"t":1986.8,"h":1.2},{"t":1986.9,"h":0.8},
{"t":1987,"h":6.3},{"t":1987.1,"h":2},{"t":1987.2,"h":1.4},{"t":1987.3,"h":3},{"t":1987.4,"h":4.9},{"t":1987.5,"h":2.4},{"t":1987.6,"h":4.6},{"t":1987.7,"h":2},{"t":1987.8,"h":1.4},{"t":1987.9,"h":1},
{"t":1988,"h":1},{"t":1988.1,"h":1.4},{"t":1988.2,"h":2.2},{"t":1988.3,"h":4.1},{"t":1988.4,"h":2.6},{"t":1988.5,"h":6.6},{"t":1988.6,"h":3},{"t":1988.7,"h":5},{"t":1988.8,"h":2},{"t":1988.9,"h":1.2},
{"t":1989,"h":1.4},{"t":1989.1,"h":2},{"t":1989.2,"h":3},{"t":1989.3,"h":5.2},{"t":1989.4,"h":9.4},{"t":1989.5,"h":6.3},{"t":1989.6,"h":3},{"t":1989.7,"h":6.3},{"t":1989.8,"h":2.4},{"t":1989.9,"h":1.4},
{"t":1990,"h":1.2},{"t":1990.1,"h":1.5},{"t":1990.2,"h":2.4},{"t":1990.3,"h":4.4},{"t":1990.4,"h":3},{"t":1990.5,"h":6},{"t":1990.6,"h":3.2},{"t":1990.7,"h":7.2},{"t":1990.8,"h":4},{"t":1990.9,"h":7.6},
{"t":1991,"h":2},{"t":1991.1,"h":1.6},{"t":1991.2,"h":2.2},{"t":1991.3,"h":4},{"t":1991.4,"h":5.7},{"t":1991.5,"h":9.6},{"t":1991.6,"h":5.7},{"t":1991.7,"h":3.6},{"t":1991.8,"h":2},{"t":1991.9,"h":1.4},
{"t":1992,"h":1.2},{"t":1992.1,"h":1.4},{"t":1992.2,"h":2},{"t":1992.3,"h":3.2},{"t":1992.4,"h":7.1},{"t":1992.5,"h":3},{"t":1992.6,"h":6.7},{"t":1992.7,"h":4},{"t":1992.8,"h":2},{"t":1992.9,"h":1.3},
{"t":1993,"h":1.2},{"t":1993.1,"h":1.4},{"t":1993.2,"h":2.2},{"t":1993.3,"h":3},{"t":1993.4,"h":5.7},{"t":1993.5,"h":2.6},{"t":1993.6,"h":4},{"t":1993.7,"h":2},{"t":1993.8,"h":1.3},{"t":1993.9,"h":1},
{"t":1994,"h":0.9},{"t":1994.1,"h":1},{"t":1994.2,"h":1.4},{"t":1994.3,"h":2},{"t":1994.4,"h":2.6},{"t":1994.5,"h":1.6},{"t":1994.6,"h":2.2},{"t":1994.7,"h":1.4},{"t":1994.8,"h":1},{"t":1994.9,"h":0.8},
{"t":1995,"h":0.9},{"t":1995.1,"h":1.2},{"t":1995.2,"h":1.8},{"t":1995.3,"h":3},{"t":1995.4,"h":4.5},{"t":1995.5,"h":7.6},{"t":1995.6,"h":5.3},{"t":1995.7,"h":4},{"t":1995.8,"h":2},{"t":1995.9,"h":1.2},
{"t":1996,"h":1},{"t":1996.1,"h":1.2},{"t":1996.2,"h":1.8},{"t":1996.3,"h":3},{"t":1996.4,"h":6.7},{"t":1996.5,"h":2.6},{"t":1996.6,"h":4.5},{"t":1996.7,"h":2},{"t":1996.8,"h":1.2},{"t":1996.9,"h":0.9},
{"t":1997,"h":0.8},{"t":1997.1,"h":1},{"t":1997.2,"h":1.4},{"t":1997.3,"h":2.2},{"t":1997.4,"h":2.5},{"t":1997.5,"h":1.6},{"t":1997.6,"h":2.2},{"t":1997.7,"h":1.3},{"t":1997.8,"h":0.9},{"t":1997.9,"h":0.8},
{"t":1998,"h":0.8},{"t":1998.1,"h":1},{"t":1998.2,"h":1.6},{"t":1998.3,"h":2.4},{"t":1998.4,"h":4.5},{"t":1998.5,"h":2.2},{"t":1998.6,"h":5.2},{"t":1998.7,"h":2.4},{"t":1998.8,"h":1.4},{"t":1998.9,"h":0.9},
{"t":1999,"h":0.8},{"t":1999.1,"h":1},{"t":1999.2,"h":1.5},{"t":1999.3,"h":2.4},{"t":1999.4,"h":2.9},{"t":1999.5,"h":1.6},{"t":1999.6,"h":2.4},{"t":1999.7,"h":1.4},{"t":1999.8,"h":1},{"t":1999.9,"h":0.8},
{"t":2000,"h":0.9},{"t":2000.1,"h":1.2},{"t":2000.2,"h":1.8},{"t":2000.3,"h":3},{"t":2000.4,"h":4},{"t":2000.5,"h":2},{"t":2000.6,"h":6.7},{"t":2000.7,"h":3},{"t":2000.8,"h":1.6},{"t":2000.9,"h":1},
{"t":2001,"h":0.9},{"t":2001.1,"h":1},{"t":2001.2,"h":1.4},{"t":2001.3,"h":2.2},{"t":2001.4,"h":2.9},{"t":2001.5,"h":1.6},{"t":2001.6,"h":3.5},{"t":2001.7,"h":1.8},{"t":2001.8,"h":1.1},{"t":2001.9,"h":0.9},
{"t":2002,"h":0.8},{"t":2002.1,"h":0.9},{"t":2002.2,"h":1.2},{"t":2002.3,"h":2},{"t":2002.4,"h":2.9},{"t":2002.5,"h":1.4},{"t":2002.6,"h":2.4},{"t":2002.7,"h":1.2},{"t":2002.8,"h":0.8},{"t":2002.9,"h":0.7},
{"t":2003,"h":0.7},{"t":2003.1,"h":0.8},{"t":2003.2,"h":1.2},{"t":2003.3,"h":1.8},{"t":2003.4,"h":2.6},{"t":2003.5,"h":1.4},{"t":2003.6,"h":4.6},{"t":2003.7,"h":2.2},{"t":2003.8,"h":1.2},{"t":2003.9,"h":0.8},
{"t":2004,"h":0.7},{"t":2004.1,"h":0.8},{"t":2004.2,"h":1.3},{"t":2004.3,"h":2},{"t":2004.4,"h":2.9},{"t":2004.5,"h":1.4},{"t":2004.6,"h":2.2},{"t":2004.7,"h":1.2},{"t":2004.8,"h":0.8},{"t":2004.9,"h":0.7},
{"t":2005,"h":0.7},{"t":2005.1,"h":0.9},{"t":2005.2,"h":1.3},{"t":2005.3,"h":2},{"t":2005.4,"h":3.6},{"t":2005.5,"h":1.8},{"t":2005.6,"h":5.4},{"t":2005.7,"h":2.6},{"t":2005.8,"h":1.2},{"t":2005.9,"h":0.8},
{"t":2006,"h":0.6},{"t":2006.1,"h":0.6},{"t":2006.2,"h":0.8},{"t":2006.3,"h":1.4},{"t":2006.4,"h":2.5},{"t":2006.5,"h":1},{"t":2006.6,"h":1.4},{"t":2006.7,"h":0.8},{"t":2006.8,"h":0.5},{"t":2006.9,"h":0.4},
{"t":2007,"h":0.4},{"t":2007.1,"h":0.4},{"t":2007.2,"h":0.6},{"t":2007.3,"h":0.9},{"t":2007.4,"h":1.6},{"t":2007.5,"h":0.7},{"t":2007.6,"h":1.2},{"t":2007.7,"h":0.6},{"t":2007.8,"h":0.4},{"t":2007.9,"h":0.3},
{"t":2008,"h":0.3},{"t":2008.1,"h":0.4},{"t":2008.2,"h":0.6},{"t":2008.3,"h":1},{"t":2008.4,"h":1.4},{"t":2008.5,"h":0.7},{"t":2008.6,"h":1.2},{"t":2008.7,"h":0.6},{"t":2008.8,"h":0.4},{"t":2008.9,"h":0.3},
{"t":2009,"h":0.3},{"t":2009.1,"h":0.4},{"t":2009.2,"h":0.6},{"t":2009.3,"h":1.2},{"t":2009.4,"h":1.4},{"t":2009.5,"h":0.8},{"t":2009.6,"h":1.3},{"t":2009.7,"h":0.8},{"t":2009.8,"h":0.6},{"t":2009.9,"h":0.5},
{"t":2010,"h":0.6},{"t":2010.1,"h":0.8},{"t":2010.2,"h":1.2},{"t":2010.3,"h":2.2},{"t":2010.4,"h":4.2},{"t":2010.5,"h":2.4},{"t":2010.6,"h":7},{"t":2010.7,"h":4.6},{"t":2010.8,"h":3},{"t":2010.9,"h":2.2},
{"t":2011,"h":2},{"t":2011.1,"h":2.4},{"t":2011.2,"h":3.2},{"t":2011.3,"h":4.8},{"t":2011.4,"h":5.6},{"t":2011.5,"h":3.4},{"t":2011.6,"h":4.4},{"t":2011.7,"h":2.6},{"t":2011.8,"h":2.2},{"t":2011.9,"h":2},
{"t":2012,"h":2},{"t":2012.1,"h":3},{"t":2012.2,"h":2.4},{"t":2012.3,"h":2.2},{"t":2012.4,"h":3.2},{"t":2012.5,"h":2},{"t":2012.6,"h":2.6},{"t":2012.7,"h":4},{"t":2012.8,"h":3},{"t":2012.9,"h":1.8},
{"t":2013,"h":1.4},{"t":2013.1,"h":1.2},{"t":2013.2,"h":1.4},{"t":2013.3,"h":2},{"t":2013.4,"h":2.6},{"t":2013.5,"h":1.4},{"t":2013.6,"h":2},{"t":2013.7,"h":1.2},{"t":2013.8,"h":0.9},{"t":2013.9,"h":0.8},
{"t":2014,"h":0.8},{"t":2014.1,"h":0.9},{"t":2014.2,"h":1.2},{"t":2014.3,"h":2},{"t":2014.4,"h":3.4},{"t":2014.5,"h":1.6},{"t":2014.6,"h":3},{"t":2014.7,"h":1.6},{"t":2014.8,"h":1},{"t":2014.9,"h":0.8},
{"t":2015,"h":0.8},{"t":2015.1,"h":0.9},{"t":2015.2,"h":1.2},{"t":2015.3,"h":2},{"t":2015.4,"h":2.6},{"t":2015.5,"h":1.4},{"t":2015.6,"h":3.6},{"t":2015.7,"h":1.8},{"t":2015.8,"h":1},{"t":2015.9,"h":0.8},
{"t":2016,"h":0.8},{"t":2016.1,"h":1},{"t":2016.2,"h":1.6},{"t":2016.3,"h":2.6},{"t":2016.4,"h":3},{"t":2016.5,"h":5.1},{"t":2016.6,"h":2.6},{"t":2016.7,"h":8.35},{"t":2016.8,"h":4.9},{"t":2016.9,"h":1.6},
{"t":2017,"h":1.2},{"t":2017.1,"h":1},{"t":2017.2,"h":1.4},{"t":2017.3,"h":2.2},{"t":2017.4,"h":4.1},{"t":2017.5,"h":1.8},{"t":2017.6,"h":2.4},{"t":2017.7,"h":1.3},{"t":2017.8,"h":0.9},{"t":2017.9,"h":0.7},
{"t":2018,"h":0.6},{"t":2018.1,"h":0.7},{"t":2018.2,"h":0.9},{"t":2018.3,"h":1.4},{"t":2018.4,"h":1.9},{"t":2018.5,"h":1},{"t":2018.6,"h":1.6},{"t":2018.7,"h":0.9},{"t":2018.8,"h":0.7},{"t":2018.9,"h":0.6},
{"t":2019,"h":0.6},{"t":2019.1,"h":0.7},{"t":2019.2,"h":1},{"t":2019.3,"h":1.6},{"t":2019.4,"h":2.1},{"t":2019.5,"h":1.1},{"t":2019.6,"h":1.8},{"t":2019.7,"h":1},{"t":2019.8,"h":0.7},{"t":2019.9,"h":0.6},
{"t":2020,"h":0.7},{"t":2020.1,"h":0.8},{"t":2020.2,"h":1.2},{"t":2020.3,"h":1.8},{"t":2020.4,"h":1.4},{"t":2020.5,"h":2},{"t":2020.6,"h":1.3},{"t":2020.7,"h":4},{"t":2020.8,"h":1.6}
    ]
  },
  "resolve": {"scale": {"color": "independent"}, "axis": {"y": "independent"}},
  "layer": [
    {
      "data": {"name": "gauge"},
      "mark": {"type": "line", "strokeWidth": 1.5, "interpolate": "linear"},
      "encoding": {
        "x": {
          "field": "t", "type": "quantitative",
          "scale": {"domain": [1884.72, 2021.27], "nice": false, "zero": false},
          "axis": {
            "title": null,
            "tickCount": 40,
            "values": [1885.25, 1889.25, 1894.25, 1899.25, 1904.25, 1909.25, 1914.25, 1919.25, 1924.25, 1929.25, 1934.25, 1939.25, 1944.25, 1949.25, 1954.25, 1959.25, 1964.25, 1969.25, 1974.25, 1979.25, 1984.25, 1989.25, 1994.25, 1999.25, 2004.25, 2009.25, 2014.25, 2019.25],
            "labelExpr": "['Apr', '' + floor(datum.value)]",
            "labelFont": "Liberation Sans",
            "labelFontSize": 8,
            "labelLineHeight": 11,
            "labelPadding": 2,
            "labelOverlap": false,
            "labelFlush": false
          }
        },
        "y": {
          "field": "h", "type": "quantitative",
          "scale": {"domain": [-0.17, 12], "nice": false, "zero": false},
          "axis": {
            "orient": "left",
            "values": [0, 1, 2, 3, 4, 5, 6, 7, 8, 9, 10, 11, 12],
            "title": "Wagga Wagga gauge height (m)",
            "titleFontSize": 15,
            "titleFontWeight": "normal",
            "titleColor": "#000",
            "titlePadding": 10,
            "labelFontSize": 11
          }
        },
        "color": {
          "datum": "Murrumbidgee River gauge height at Wagga Wagga (Hampden Bridge) (m)",
          "scale": {"range": ["#0000ff"]},
          "legend": {"orient": "none", "legendX": 146, "legendY": 266, "title": null, "symbolType": "stroke", "symbolSize": 5929, "symbolStrokeWidth": 1.5, "symbolStrokeColor": "#0000ff", "labelOffset": 8}
        }
      }
    },
    {
      "data": {"values": [{"level": 7.3, "s": "Minor flood level river gauge height"}]},
      "mark": {"type": "rule", "strokeDash": [18, 7], "strokeWidth": 1.5},
      "encoding": {
        "y": {
          "field": "level", "type": "quantitative",
          "scale": {"domain": [-0.17, 12], "nice": false, "zero": false},
          "axis": {"orient": "right", "values": [0, 1, 2, 3, 4, 5, 6, 7, 8, 9, 10, 11, 12], "title": null, "labelFontSize": 11}
        },
        "color": {
          "field": "s", "type": "nominal",
          "scale": {"range": ["#000000"]},
          "legend": {"orient": "none", "legendX": 146, "legendY": 280, "title": null, "symbolType": "stroke", "symbolSize": 5929, "symbolStrokeWidth": 1.5, "symbolStrokeColor": "#000", "symbolDash": [14, 7], "labelOffset": 8}
        }
      }
    },
    {
      "data": {"values": [{"t": 1885.0, "v": 2.2, "s": "Linear trend"}, {"t": 2020.8, "v": 1.75, "s": "Linear trend"}]},
      "mark": {"type": "line", "strokeDash": [2, 6], "strokeWidth": 2},
      "encoding": {
        "x": {"field": "t", "type": "quantitative"},
        "y": {"field": "v", "type": "quantitative", "axis": null},
        "color": {
          "field": "s", "type": "nominal",
          "scale": {"range": ["#000000"]},
          "legend": {"orient": "none", "legendX": 493, "legendY": 275, "title": null, "symbolType": "stroke", "symbolSize": 7744, "symbolStrokeWidth": 1.8, "symbolStrokeColor": "#000", "symbolDash": [1.8, 5.6], "labelOffset": 4}
        }
      }
    },
    {
      "data": {"values": [{"t": 1991.5, "h": 9.6, "label": "16-7-91"}, {"t": 1995.5, "h": 7.6, "label": "20-7-95"}]},
      "mark": {"type": "text", "align": "left", "baseline": "middle", "dx": 2, "dy": -9, "font": "Liberation Sans", "fontSize": 13, "fontWeight": "bold", "color": "#111"},
      "encoding": {
        "x": {"field": "t", "type": "quantitative"},
        "y": {"field": "h", "type": "quantitative", "axis": null},
        "text": {"field": "label"}
      }
    },
    {
      "data": {"values": [{"t": 2016.7, "h": 8.35, "label": "20-9-2016"}]},
      "mark": {"type": "text", "align": "center", "baseline": "middle", "dx": -8, "dy": -7, "font": "Liberation Sans", "fontSize": 13, "fontWeight": "bold", "color": "#111"},
      "encoding": {
        "x": {"field": "t", "type": "quantitative"},
        "y": {"field": "h", "type": "quantitative", "axis": null},
        "text": {"field": "label"}
      }
    }
  ]
}
